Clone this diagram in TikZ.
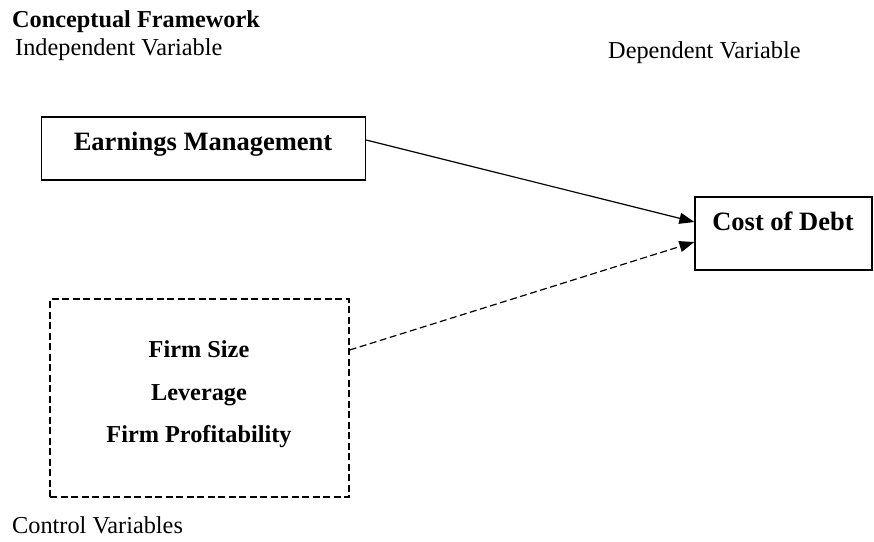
\documentclass[tikz,border=0pt]{standalone}
\usepackage{fontspec}
\setmainfont{Liberation Serif}
\usetikzlibrary{arrows.meta}
\begin{document}
\begin{tikzpicture}[x=1pt,y=-1pt,
  lbl/.style={anchor=base west,inner sep=0pt,font=\fontsize{24.3}{28}\selectfont},
  boxtxt/.style={font=\fontsize{26.5}{30}\selectfont\bfseries},
  ctl/.style={inner sep=0pt,font=\fontsize{24.3}{28}\selectfont\bfseries},
  dsh/.style={dash pattern=on 7pt off 3.5pt},
  arr/.style={-{Triangle[length=15pt,width=11pt]},line width=1.2pt}]
\useasboundingbox (0,0) rectangle (874,541);
\node[lbl,font=\fontsize{24.3}{28}\selectfont\bfseries] (title) at (12,27) {Conceptual Framework};
\node[lbl] (indep) at (15,55) {Independent Variable};
\node[lbl] (dep) at (608,58) {Dependent Variable};
\node[lbl] (ctlv) at (12,533) {Control Variables};
% boxes
\node[draw,line width=1.3pt,minimum width=324pt,minimum height=63pt,inner sep=0pt] (em) at (203.5,148.5) {};
\node[boxtxt,anchor=base] (emt) at (203,150) {Earnings Management};
\node[draw,line width=1.3pt,minimum width=177pt,minimum height=73pt,inner sep=0pt] (cod) at (783.5,233.5) {};
\node[boxtxt,anchor=base] (codt) at (783,230) {Cost of Debt};
\node[draw,dsh,line width=1.3pt,minimum width=299pt,minimum height=198pt,inner sep=0pt] (cv) at (199.5,398) {};
\node[ctl,anchor=base] (fs) at (199,357) {Firm Size};
\node[ctl,anchor=base] (lev) at (199,400) {Leverage};
\node[ctl,anchor=base] (fp) at (199,442) {Firm Profitability};
% arrows
\coordinate (a1) at (em.east |- 0,140);
\coordinate (b1) at (cod.west |- 0,222);
\coordinate (a2) at (cv.east |- 0,350);
\coordinate (b2) at (cod.west |- 0,242);
\draw[arr] (a1) -- (b1);
\draw[arr,dsh] (a2) -- (b2);
\end{tikzpicture}
\end{document}
